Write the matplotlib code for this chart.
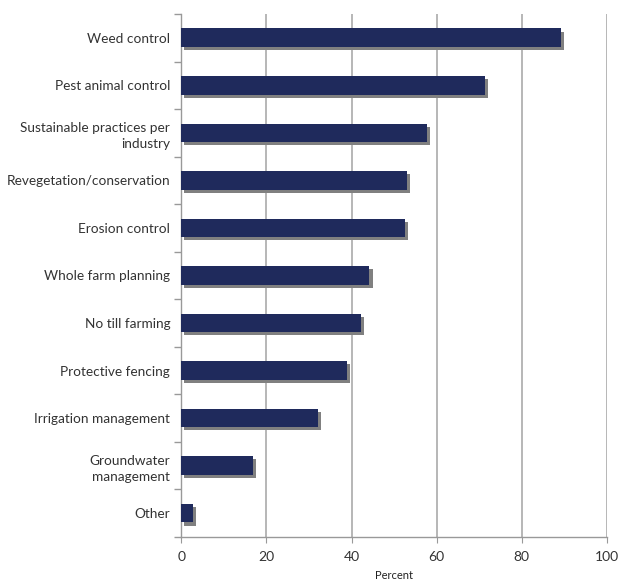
import matplotlib.pyplot as plt
import matplotlib.patheffects as pe
import numpy as np

# data (top to bottom as shown)
categories = ["Weed control", "Pest animal control", "Sustainable practices per\nindustry",
              "Revegetation/conservation", "Erosion control", "Whole farm planning",
              "No till farming", "Protective fencing", "Irrigation management",
              "Groundwater\nmanagement", "Other"]
percent = [89.2, 71.4, 57.6, 52.9, 52.6, 44.2, 42.3, 39.0, 32.0, 16.9, 2.8]
xticks = [0, 20, 40, 60, 80, 100]

plt.rcParams['font.family'] = ['Lato', 'DejaVu Sans']

fig = plt.figure(figsize=(6.18, 5.83), dpi=100)
ax = fig.add_axes([0.2934, 0.0789, 0.6888, 0.8971])

y = np.arange(len(categories))
bars = ax.barh(y, percent, height=0.39, color='#1f2a5c', zorder=3)
for b in bars:
    b.set_path_effects([pe.SimplePatchShadow(offset=(2.2, -2.2), shadow_rgbFace='#808080', alpha=1),
                        pe.Normal()])

ax.set_ylim(len(categories) - 0.5, -0.5)
ax.set_xlim(0, 100)
ax.set_xticks(xticks)
ax.set_yticks(y)
ax.set_yticklabels(categories, fontsize=9.8, color='#333333', linespacing=1.45)
ax.set_yticks(np.arange(len(categories) + 1) - 0.5, minor=True)
ax.tick_params(axis='y', which='major', length=0, pad=8)
ax.tick_params(axis='y', which='minor', length=5, color='#999999', width=1)
ax.tick_params(axis='x', length=4, color='#999999', labelsize=10, labelcolor='#333333', pad=6)

ax.grid(axis='x', color='#aaaaaa', linewidth=1.2, zorder=0)
for s in ['top', 'right']:
    ax.spines[s].set_visible(False)
for s in ['left', 'bottom']:
    ax.spines[s].set_color('#999999')
    ax.spines[s].set_linewidth(1)

ax.set_xlabel("Percent", fontsize=8, color='#222222', labelpad=5)

fig.savefig("out.png", dpi=100)
